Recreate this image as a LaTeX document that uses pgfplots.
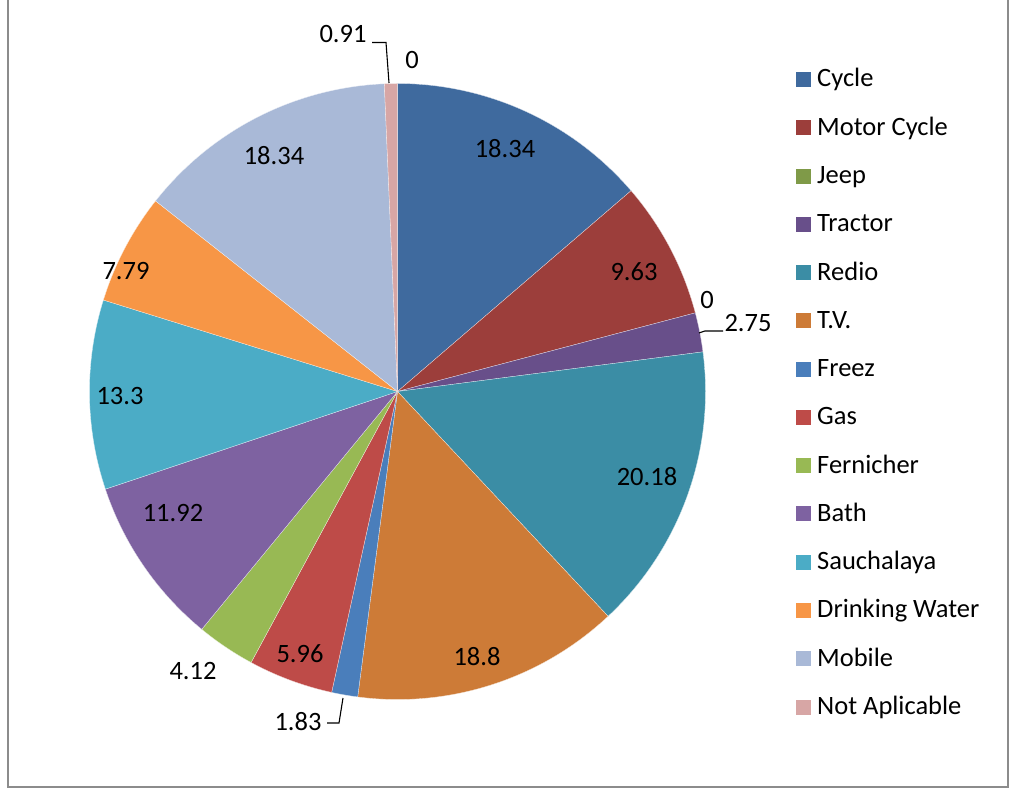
\documentclass[border=0pt]{standalone}
\usepackage{pgfplots}
\pgfplotsset{compat=1.18}
\usepackage{fontspec}
\setmainfont{Carlito}
\definecolor{c1}{HTML}{3F6A9E}
\definecolor{c2}{HTML}{9C3E3B}
\definecolor{c3}{HTML}{7F9A48}
\definecolor{c4}{HTML}{684F8A}
\definecolor{c5}{HTML}{3B8DA5}
\definecolor{c6}{HTML}{CD7B37}
\definecolor{c7}{HTML}{4A7EBB}
\definecolor{c8}{HTML}{BE4B48}
\definecolor{c9}{HTML}{98B954}
\definecolor{c10}{HTML}{7E62A1}
\definecolor{c11}{HTML}{4BACC6}
\definecolor{c12}{HTML}{F79646}
\definecolor{c13}{HTML}{A9B9D7}
\definecolor{c14}{HTML}{D7A6A5}
\definecolor{frame}{HTML}{8C8C8C}
% values in legend order
\def\vals{18.34,9.63,0,2.75,20.18,18.8,1.83,5.96,4.12,11.92,13.3,7.79,18.34,0.91}
\def\cx{397.5}
\def\cy{397.5}
\def\R{308}
\begin{document}
\begin{tikzpicture}
\fontsize{26.5}{31}\selectfont
% total and cumulative angles (clockwise from top)
\xdef\tot{0}
\foreach \v in \vals {\pgfmathsetmacro\tmp{\tot+\v}\xdef\tot{\tmp}}
\xdef\cur{90}
\foreach \v [count=\i] in \vals {
  \pgfmathsetmacro\nx{\cur-\v/\tot*360}
  \expandafter\xdef\csname s\i\endcsname{\cur}
  \expandafter\xdef\csname e\i\endcsname{\nx}
  \xdef\cur{\nx}
}
\begin{axis}[x=1pt, y=1pt, xmin=0, xmax=1014, ymin=0, ymax=789,
  hide axis, clip=false, anchor=origin, at={(0,0)}]
\pgfplotsinvokeforeach{1,2,4,5,6,7,8,9,10,11,12,13,14}{
  \addplot[fill=c#1, draw=white!80!c#1, line width=0.3pt, domain=\csname e#1\endcsname:\csname s#1\endcsname,
    samples=90, variable=\t] ({\cx+\R*cos(\t)},{\cy+\R*sin(\t)}) -- (axis cs:\cx,\cy) -- cycle;
}
% data labels
\node at (axis cs:505,640) {18.34};
\node at (axis cs:634,517) {9.63};
\node at (axis cs:707,489) {0};
\node at (axis cs:748,466) {2.75};
\node at (axis cs:647,312) {20.18};
\node at (axis cs:477,132) {18.8};
\node at (axis cs:298,67) {1.83};
\node at (axis cs:300,135) {5.96};
\node at (axis cs:193,118) {4.12};
\node at (axis cs:173,276) {11.92};
\node at (axis cs:120,393) {13.3};
\node at (axis cs:126,518) {7.79};
\node at (axis cs:274,633) {18.34};
\node at (axis cs:343,755) {0.91};
\node at (axis cs:412,729) {0};
% leader lines
\draw[black, line width=1.1pt] (axis cs:372,746.5) -- (axis cs:386,746.5) -- (axis cs:389,706);
\draw[black, line width=1.1pt] (axis cs:699,456) -- (axis cs:705,458) -- (axis cs:723,458);
\draw[black, line width=1.1pt] (axis cs:327,66) -- (axis cs:339,66) -- (axis cs:343,91);
% chart frame
\draw[frame, line width=2.4pt] (axis cs:8,789) -- (axis cs:8,2) -- (axis cs:1008,2) -- (axis cs:1008,789);
\end{axis}
% legend
\foreach \n [count=\i] in {Cycle,Motor Cycle,Jeep,Tractor,Redio,T.V.,Freez,Gas,Fernicher,Bath,Sauchalaya,Drinking Water,Mobile,Not Aplicable}{
  \pgfmathsetmacro\yy{789-79.5-(\i-1)*48.27}
  \fill[c\i] (796pt,\yy pt-7.5pt) rectangle (811pt,\yy pt+7.5pt);
  \node[anchor=base west, inner sep=0pt] at (817pt,\yy pt-7.5pt) {\n};
}
\pgfresetboundingbox
\useasboundingbox (0,0) rectangle (1014pt,789pt);
\end{tikzpicture}
\end{document}
